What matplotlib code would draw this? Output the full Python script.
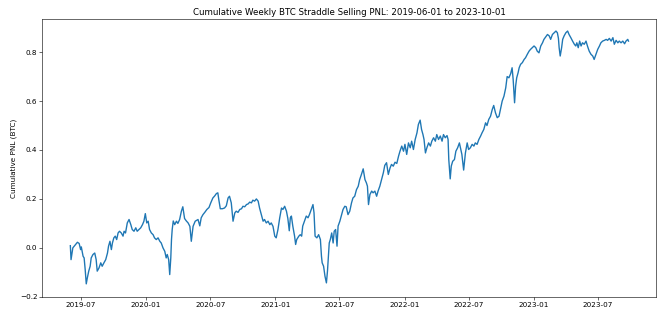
import numpy as np
import pandas as pd
import matplotlib
matplotlib.use("Agg")
import matplotlib.pyplot as plt
import matplotlib.dates as mdates

start_date = "2019-06-01"

# days since start, cumulative pnl in BTC
days = [0, 2, 7, 12, 17, 20, 25, 29, 31, 36, 39, 42, 45, 48, 52, 56, 59, 64, 69, 73,
        76, 81, 86, 90, 95, 100, 105, 108, 112, 116, 119, 123, 127, 131, 135, 139, 144,
        149, 152, 156, 161, 166, 171, 175, 180, 185, 189, 194, 199, 204, 208, 212, 216,
        220, 224, 229, 234, 238, 243, 248, 253, 257, 262, 267, 271, 274, 278, 281, 284,
        286, 288, 291, 295, 300, 304, 309, 314, 318, 323, 328, 333, 338, 342, 347, 353,
        361, 366, 370, 375, 380, 386, 392, 397, 403, 408, 413, 417, 420, 424, 430, 436,
        441, 446, 450, 455, 460, 465, 469, 474, 479, 484, 488, 493, 498, 503, 507, 512,
        516, 521, 526, 531, 535, 540, 545, 549, 554, 559, 564, 568, 573, 578, 582, 587,
        592, 597, 601, 606, 611, 615, 619, 622, 625, 629, 634, 637, 640, 646, 650, 654,
        657, 662, 667, 672, 676, 681, 684, 686, 689, 692, 697, 702, 707, 710, 712, 716,
        720, 724, 727, 729, 732, 735, 739, 743, 746, 750, 754, 757, 762, 766, 771, 776,
        780, 785, 790, 795, 799, 804, 809, 814, 818, 823, 828, 833, 837, 840, 843, 847,
        852, 856, 861, 866, 870, 875, 880, 885, 889, 894, 899, 904, 908, 913, 918, 923,
        928, 932, 937, 942, 946, 951, 956, 961, 965, 970, 975, 980, 984, 989, 993, 997,
        1000, 1004, 1008, 1013, 1018, 1022, 1027, 1032, 1036, 1041, 1046, 1051, 1055,
        1060, 1065, 1068, 1070, 1072, 1074, 1077, 1081, 1086, 1090, 1095, 1100, 1103,
        1107, 1112, 1117, 1122, 1126, 1131, 1136, 1141, 1145, 1150, 1155, 1160, 1164,
        1169, 1174, 1178, 1183, 1188, 1193, 1197, 1202, 1207, 1212, 1216, 1221, 1226,
        1231, 1235, 1240, 1245, 1249, 1252, 1254, 1256, 1259, 1262, 1266, 1269, 1273,
        1278, 1283, 1287, 1292, 1297, 1301, 1306, 1311, 1316, 1320, 1325, 1330, 1335,
        1339, 1344, 1349, 1354, 1358, 1363, 1368, 1373, 1377, 1380, 1382, 1385, 1389,
        1392, 1396, 1401, 1406, 1410, 1415, 1420, 1425, 1429, 1432, 1436, 1440, 1444,
        1448, 1453, 1458, 1462, 1467, 1472, 1477, 1481, 1486, 1491, 1496, 1500, 1505,
        1510, 1515, 1519, 1524, 1529, 1534, 1538, 1543, 1548, 1552, 1557, 1562, 1567,
        1571, 1576, 1578]

pnl = [0.009, -0.048, 0.000, 0.009, 0.018, 0.023, 0.018, -0.007, 0.004, -0.034, -0.041,
       -0.089, -0.147, -0.123, -0.095, -0.075, -0.041, -0.027, -0.021, -0.048, -0.095,
       -0.082, -0.061, -0.075, -0.061, -0.048, -0.021, 0.007, 0.027, -0.007, 0.020, 0.041,
       0.048, 0.034, 0.061, 0.068, 0.061, 0.048, 0.068, 0.061, 0.102, 0.116, 0.095, 0.075,
       0.068, 0.082, 0.068, 0.075, 0.082, 0.095, 0.109, 0.140, 0.102, 0.109, 0.075, 0.061,
       0.054, 0.041, 0.034, 0.041, 0.027, 0.020, 0.000, -0.014, -0.041, -0.027, -0.048,
       -0.109, -0.041, 0.034, 0.075, 0.110, 0.095, 0.109, 0.100, 0.116, 0.150, 0.168,
       0.120, 0.110, 0.102, 0.088, 0.027, 0.088, 0.109, 0.116, 0.090, 0.123, 0.136, 0.145,
       0.157, 0.165, 0.184, 0.204, 0.212, 0.222, 0.225, 0.195, 0.160, 0.160, 0.163, 0.172,
       0.204, 0.211, 0.184, 0.109, 0.143, 0.150, 0.145, 0.157, 0.160, 0.170, 0.168, 0.177,
       0.180, 0.187, 0.184, 0.195, 0.191, 0.200, 0.191, 0.163, 0.136, 0.109, 0.116, 0.102,
       0.109, 0.095, 0.102, 0.088, 0.048, 0.041, 0.075, 0.123, 0.163, 0.157, 0.170, 0.150,
       0.120, 0.070, 0.123, 0.130, 0.089, 0.048, 0.014, 0.034, 0.048, 0.054, 0.048, 0.089,
       0.109, 0.130, 0.123, 0.136, 0.157, 0.170, 0.177, 0.143, 0.048, 0.041, 0.054, 0.034,
       -0.034, -0.061, -0.075, -0.116, -0.143, -0.095, -0.048, 0.020, 0.034, 0.061, 0.020,
       0.068, 0.075, 0.007, 0.089, 0.109, 0.130, 0.157, 0.170, 0.168, 0.136, 0.150, 0.184,
       0.204, 0.211, 0.238, 0.252, 0.279, 0.300, 0.323, 0.279, 0.266, 0.252, 0.177, 0.218,
       0.232, 0.225, 0.232, 0.211, 0.232, 0.252, 0.279, 0.307, 0.337, 0.348, 0.300, 0.327,
       0.341, 0.334, 0.350, 0.345, 0.375, 0.395, 0.416, 0.395, 0.423, 0.382, 0.429, 0.409,
       0.436, 0.402, 0.443, 0.470, 0.504, 0.522, 0.484, 0.463, 0.443, 0.388, 0.409, 0.429,
       0.416, 0.436, 0.450, 0.436, 0.463, 0.443, 0.457, 0.436, 0.463, 0.450, 0.459, 0.443,
       0.361, 0.320, 0.282, 0.334, 0.354, 0.361, 0.395, 0.409, 0.429, 0.409, 0.382, 0.318,
       0.388, 0.429, 0.402, 0.409, 0.423, 0.416, 0.429, 0.423, 0.443, 0.457, 0.470, 0.484,
       0.511, 0.500, 0.525, 0.538, 0.566, 0.582, 0.552, 0.532, 0.538, 0.566, 0.600, 0.620,
       0.654, 0.700, 0.695, 0.712, 0.736, 0.688, 0.641, 0.593, 0.661, 0.695, 0.716, 0.736,
       0.750, 0.757, 0.770, 0.777, 0.791, 0.804, 0.811, 0.818, 0.825, 0.818, 0.804, 0.797,
       0.825, 0.838, 0.852, 0.862, 0.872, 0.866, 0.852, 0.872, 0.879, 0.886, 0.879, 0.856,
       0.818, 0.784, 0.818, 0.852, 0.866, 0.879, 0.886, 0.872, 0.859, 0.845, 0.832, 0.825,
       0.838, 0.818, 0.845, 0.825, 0.838, 0.832, 0.845, 0.825, 0.804, 0.791, 0.784, 0.770,
       0.791, 0.811, 0.825, 0.838, 0.845, 0.848, 0.852, 0.848, 0.856, 0.845, 0.859, 0.832,
       0.848, 0.838, 0.845, 0.838, 0.845, 0.834, 0.845, 0.852, 0.845]

dates = pd.Timestamp(start_date) + pd.to_timedelta(days, unit="D")

dpi = 52
fig, ax = plt.subplots(figsize=(663 / dpi, 323 / dpi), dpi=dpi)
fig.subplots_adjust(left=0.064, right=0.99, top=0.941, bottom=0.081)

ax.plot(dates, pnl, color="#1f77b4", linewidth=1.9)
ax.set_title("Cumulative Weekly BTC Straddle Selling PNL: 2019-06-01 to 2023-10-01")
ax.set_ylabel("Cumulative PNL (BTC)")
ax.set_ylim(-0.2, 0.935)
ax.set_yticks(np.arange(-0.2, 0.81, 0.2))
ax.xaxis.set_major_locator(mdates.MonthLocator(bymonth=[1, 7]))
ax.xaxis.set_major_formatter(mdates.DateFormatter("%Y-%m"))

fig.savefig("out.png", dpi=dpi)
